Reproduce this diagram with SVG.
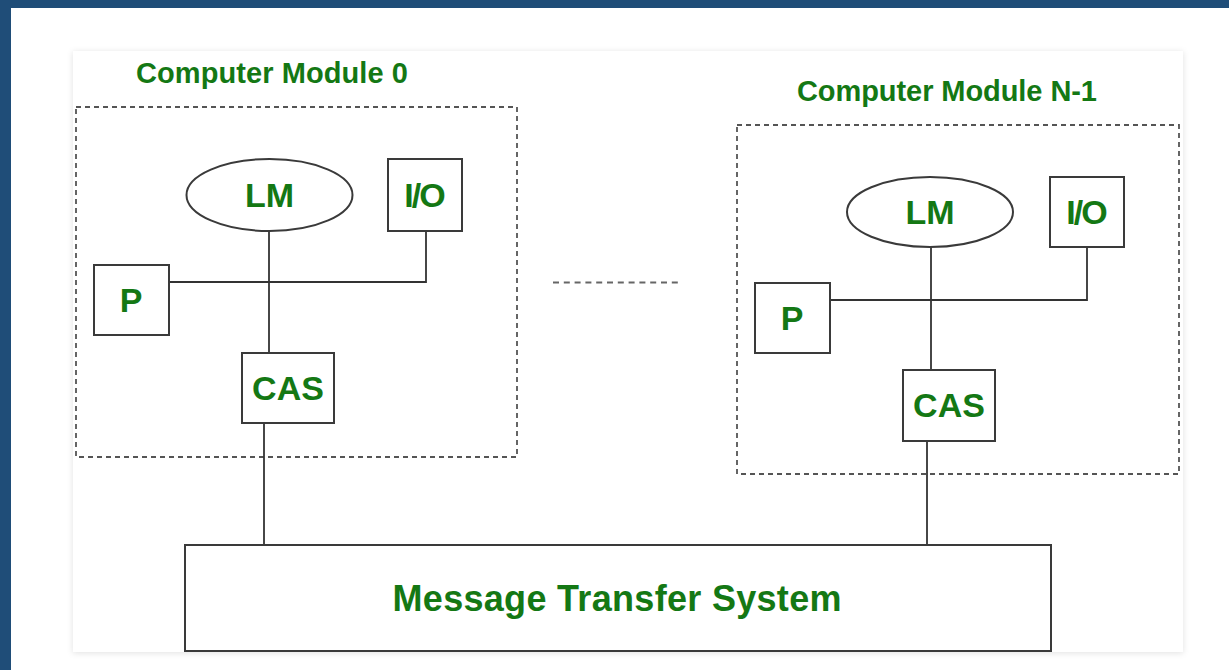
<svg xmlns="http://www.w3.org/2000/svg" width="1229" height="670" viewBox="0 0 1229 670">
  <style>
    .lbl { font-family: "Liberation Sans", Arial, sans-serif; font-weight: bold; fill: #147814; text-anchor: middle; }
    .title { font-size: 29px; text-anchor: start; }
    .big { font-size: 34px; }
    .box { fill: #ffffff; stroke: #3a3a3a; stroke-width: 2; }
    .module { fill: none; stroke: #555555; stroke-width: 1.8; stroke-dasharray: 5 4; }
    .wire { fill: none; stroke: #333333; stroke-width: 1.8; }
  </style>
  <defs>
    <filter id="panelShadow" x="-5%" y="-5%" width="110%" height="110%">
      <feGaussianBlur in="SourceAlpha" stdDeviation="3"/>
      <feOffset dx="0" dy="1" result="blur"/>
      <feFlood flood-color="#000000" flood-opacity="0.12"/>
      <feComposite in2="blur" operator="in"/>
      <feMerge><feMergeNode/><feMergeNode in="SourceGraphic"/></feMerge>
    </filter>
  </defs>

  <!-- page frame -->
  <rect x="0" y="0" width="1229" height="670" fill="#1f4d78"/>
  <rect x="11" y="8" width="1218" height="662" fill="#ffffff"/>
  <rect x="73" y="51" width="1110" height="601" fill="#ffffff" filter="url(#panelShadow)"/>

  <!-- module outlines and titles -->
  <g id="module0">
    <rect class="module" x="76" y="107" width="441" height="350"/>
    <text class="lbl title" x="136" y="83" textLength="272">Computer Module 0</text>
  </g>
  <g id="moduleN1">
    <rect class="module" x="737" y="125" width="442" height="349"/>
    <text class="lbl title" x="797" y="101" textLength="300">Computer Module N-1</text>
  </g>

  <!-- connectors -->
  <g id="connectors">
    <!-- module 0 bus -->
    <path class="wire" d="M269 231 V353"/>
    <path class="wire" d="M169 282 H426 V231"/>
    <path class="wire" d="M264 423 V545"/>
    <!-- module N-1 bus -->
    <path class="wire" d="M931 247 V370"/>
    <path class="wire" d="M830 300 H1087 V247"/>
    <path class="wire" d="M927 441 V545"/>
    <!-- ellipsis between modules -->
    <path d="M553 282.5 H682" fill="none" stroke="#666666" stroke-width="2" stroke-dasharray="6 4.8"/>
  </g>

  <!-- module 0 nodes -->
  <g id="lm0">
    <ellipse class="box" cx="269.5" cy="195" rx="83" ry="36"/>
    <text class="lbl big" x="269.5" y="207">LM</text>
  </g>
  <g id="io0">
    <rect class="box" x="388" y="159" width="74" height="72"/>
    <text class="lbl big" x="424" y="207" letter-spacing="-2">I/O</text>
  </g>
  <g id="p0">
    <rect class="box" x="94" y="265" width="75" height="70"/>
    <text class="lbl big" x="131" y="312">P</text>
  </g>
  <g id="cas0">
    <rect class="box" x="242" y="353" width="92" height="70"/>
    <text class="lbl big" x="288" y="400">CAS</text>
  </g>

  <!-- module N-1 nodes -->
  <g id="lmN1">
    <ellipse class="box" cx="930" cy="212" rx="83" ry="35"/>
    <text class="lbl big" x="930" y="224">LM</text>
  </g>
  <g id="ioN1">
    <rect class="box" x="1050" y="177" width="74" height="70"/>
    <text class="lbl big" x="1086" y="224" letter-spacing="-2">I/O</text>
  </g>
  <g id="pN1">
    <rect class="box" x="755" y="283" width="75" height="70"/>
    <text class="lbl big" x="792" y="330">P</text>
  </g>
  <g id="casN1">
    <rect class="box" x="903" y="370" width="92" height="71"/>
    <text class="lbl big" x="949" y="417">CAS</text>
  </g>

  <!-- shared message transfer system -->
  <g id="mts">
    <rect class="box" x="185" y="545" width="866" height="106"/>
    <text class="lbl" x="617" y="611" font-size="36" textLength="449">Message Transfer System</text>
  </g>
</svg>
